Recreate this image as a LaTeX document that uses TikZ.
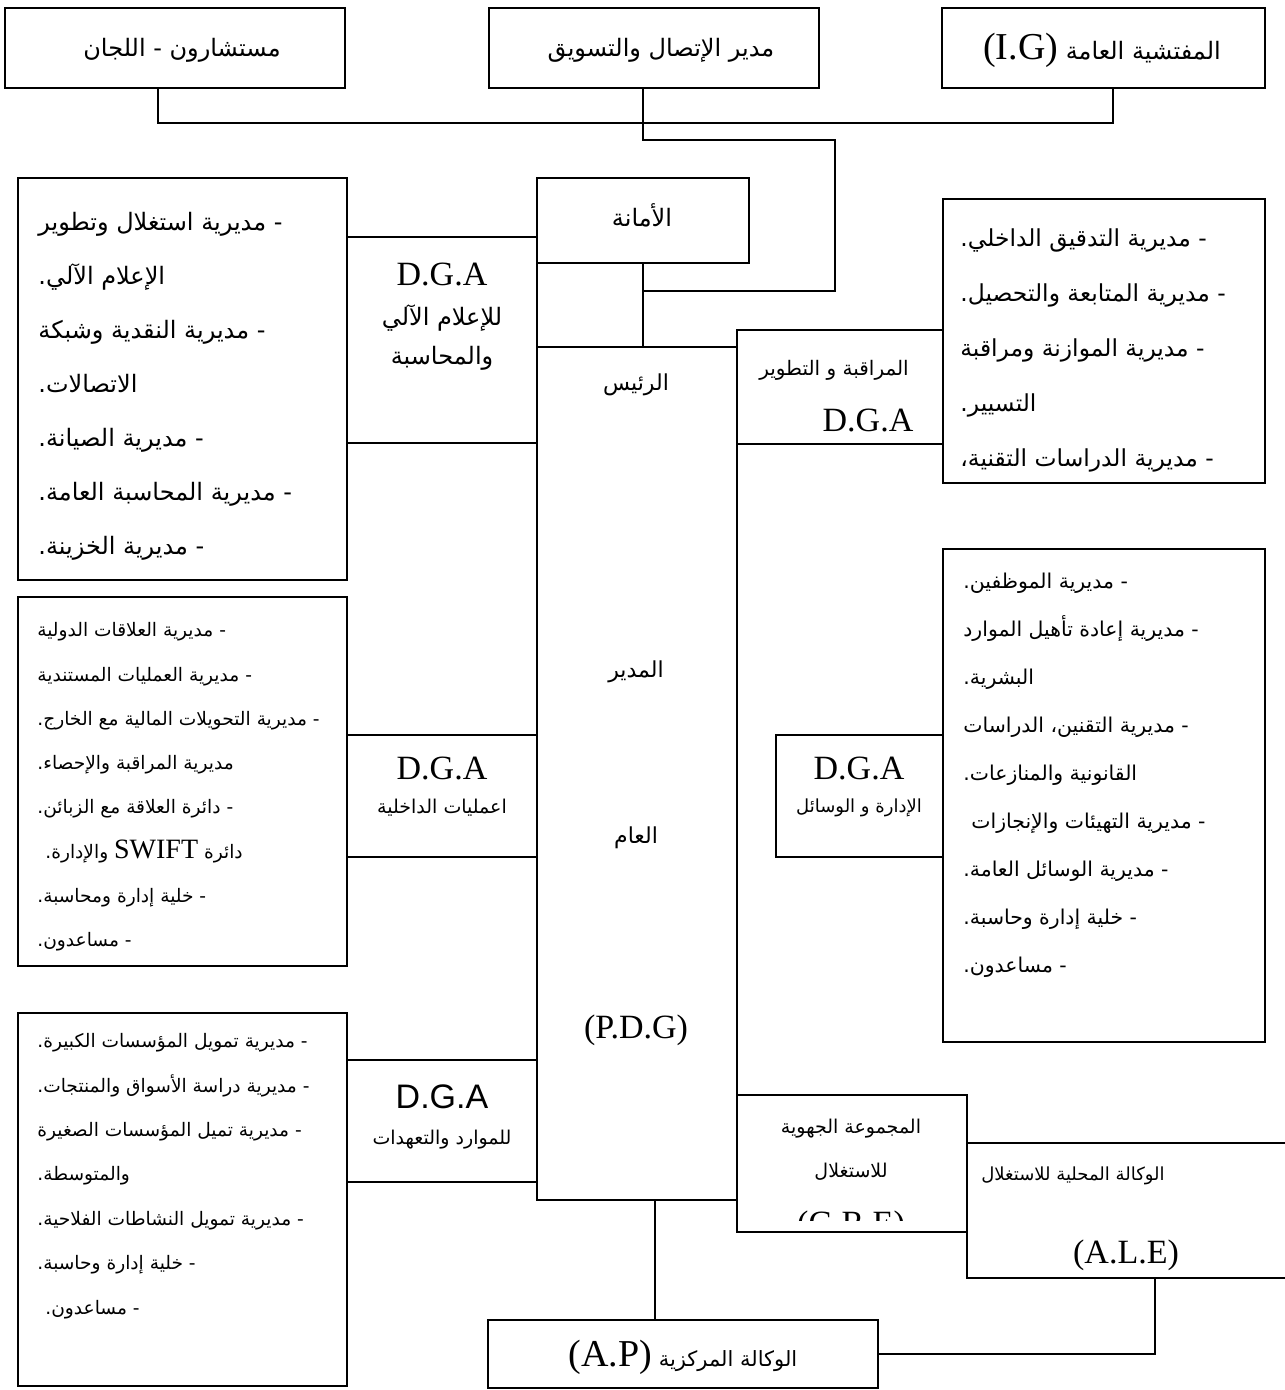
\documentclass[tikz,border=0pt]{standalone}
\usepackage{fontspec}
\setmainfont{Liberation Serif}
\newfontfamily\arfont[Script=Arabic]{DejaVu Sans}
\newfontfamily\arialfont{Liberation Sans}
\TeXXeTstate=1
\usetikzlibrary{fit}
\newcommand\AR[1]{{\arfont\beginR #1\endR}}
\newcommand\LT[1]{\beginL{\rmfamily #1}\endL{}}
\begin{document}
\begin{tikzpicture}[x=0.5pt,y=-0.5pt,
  box/.style={draw, line width=1pt, inner sep=0pt},
  conn/.style={line width=0.8pt},
  lbl/.style={inner sep=0pt, align=center},
  lst/.style={inner sep=0pt, align=left, anchor=west},
  fA/.style={font=\fontsize{12}{14}\selectfont},
  fB/.style={font=\fontsize{9.5}{12}\selectfont},
  fdga/.style={font=\fontsize{17}{19}\selectfont}]
\useasboundingbox (0,0) rectangle (1284,1390);
\fill[white] (0,0) rectangle (1284,1390);

% ---- top row
\node[box, fit={(5,8) (345,88)}] (A) {};
\node[box, fit={(489,8) (819,88)}] (B) {};
\node[box, fit={(942,8) (1265,88)}] (C) {};
\node[lbl, fA] (tA) at (182,50) {\AR{مستشارون - اللجان}};
\node[lbl, fA] (tB) at (661,50) {\AR{مدير الإتصال والتسويق}};
\node[lbl, fA] (tC) at (1102,50) {\AR{المفتشية العامة \LT{\fontsize{19}{21}\selectfont (I.G)}}};

% ---- centre column
\node[box, fit={(537,178) (749,263)}] (amana) {};
\node[lbl, fA] (tamana) at (642,215) {\AR{الأمانة}};
\node[box, fit={(537,347) (737,1200)}] (pdg) {};
\node[lbl, font=\fontsize{11}{13}\selectfont] (t1) at (636,385) {\AR{الرئيس}};
\node[lbl, font=\fontsize{11}{13}\selectfont] (t2) at (636,672) {\AR{المدير}};
\node[lbl, font=\fontsize{11}{13}\selectfont] (t3) at (636,838) {\AR{العام}};
\node[lbl, fdga] (t4) at (636,1030) {(P.D.G)};

% ---- left column
\node[box, fit={(18,178) (347,580)}] (L1) {};
\node[box, fit={(347,237) (537,443)}] (D1) {};
\node[lbl, fdga] (D1a) at (442,274) {D.G.A};
\node[lbl, fA] (D1b) at (442,318) {\AR{للإعلام الآلي}};
\node[lbl, fA] (D1c) at (442,358) {\AR{والمحاسبة}};
\node[lst, font=\fontsize{12}{27}\selectfont] (L1t) at (38,386) {%
\AR{- مديرية استغلال وتطوير}\\
\AR{الإعلام الآلي.}\\
\AR{- مديرية النقدية وشبكة}\\
\AR{الاتصالات.}\\
\AR{- مديرية الصيانة.}\\
\AR{- مديرية المحاسبة العامة.}\\
\AR{- مديرية الخزينة.}};

\node[box, fit={(18,597) (347,966)}] (L2) {};
\node[box, fit={(347,735) (537,857)}] (D2) {};
\node[lbl, fdga] (D2a) at (442,768) {D.G.A};
\node[lbl, fB] (D2b) at (442,808) {\AR{اعمليات الداخلية}};
\node[lst, font=\fontsize{9.3}{22.15}\selectfont] (L2t) at (37,787) {%
\AR{- مديرية العلاقات الدولية}\\
\AR{- مديرية العمليات المستندية}\\
\AR{- مديرية التحويلات المالية مع الخارج.}\\
\AR{مديرية المراقبة والإحصاء.}\\
\AR{- دائرة العلاقة مع الزبائن.}\\
\hspace{4pt}\AR{دائرة \LT{\fontsize{14}{14}\selectfont SWIFT} والإدارة.}\\
\AR{- خلية إدارة ومحاسبة.}\\
\AR{- مساعدون.}};

\node[box, fit={(18,1013) (347,1386)}] (L3) {};
\node[box, fit={(347,1060) (537,1182)}] (D3) {};
\node[lbl, font=\arialfont\fontsize{17}{19}\selectfont] (D3a) at (442,1097) {D.G.A};
\node[lbl, fB] (D3b) at (442,1140) {\AR{للموارد والتعهدات}};
\node[lst, font=\fontsize{9.3}{22.2}\selectfont] (L3t) at (37,1176) {%
\AR{- مديرية تمويل المؤسسات الكبيرة.}\\
\AR{- مديرية دراسة الأسواق والمنتجات.}\\
\AR{- مديرية تميل المؤسسات الصغيرة}\\
\AR{والمتوسطة.}\\
\AR{- مديرية تمويل النشاطات الفلاحية.}\\
\AR{- خلية إدارة وحاسبة.}\\
\hspace{4pt}\AR{- مساعدون.}};

% ---- right column
\node[box, fit={(737,330) (943,444)}] (D4) {};
\node[lbl, font=\fontsize{10}{12}\selectfont] (D4b) at (834,370) {\AR{المراقبة و التطوير}};
\node[lbl, fdga] (D4a) at (868,420) {D.G.A};
\node[box, fit={(943,199) (1265,483)}] (R1) {};
\node[lst, font=\fontsize{11.7}{27.5}\selectfont] (R1t) at (960,350) {%
\AR{- مديرية التدقيق الداخلي.}\\
\AR{- مديرية المتابعة والتحصيل.}\\
\AR{- مديرية الموازنة ومراقبة}\\
\AR{التسيير.}\\
\AR{- مديرية الدراسات التقنية،}};

\node[box, fit={(776,735) (943,857)}] (D5) {};
\node[lbl, fdga] (D5a) at (859,768) {D.G.A};
\node[lbl, font=\fontsize{9}{11}\selectfont] (D5b) at (859,808) {\AR{الإدارة و الوسائل}};
\node[box, fit={(943,549) (1265,1042)}] (R2) {};
\node[lst, font=\fontsize{10.2}{24}\selectfont] (R2t) at (963,775) {%
\AR{- مديرية الموظفين.}\\
\AR{- مديرية إعادة تأهيل الموارد}\\
\AR{البشرية.}\\
\AR{- مديرية التقنين، الدراسات}\\
\AR{القانونية والمنازعات.}\\
\hspace{4pt}\AR{- مديرية التهيئات والإنجازات}\\
\AR{- مديرية الوسائل العامة.}\\
\AR{- خلية إدارة وحاسبة.}\\
\AR{- مساعدون.}};

% ---- bottom
\node[box, fit={(737,1095) (967,1232)}] (gre) {};
\node[lbl, font=\fontsize{9.5}{22}\selectfont] (gret) at (851,1150) {%
\AR{المجموعة الجهوية}\\ \AR{للاستغلال}};
\begin{scope}
\clip (737,1095) rectangle (967,1220);
\node[anchor=base, inner sep=0pt, fdga] (gret2) at (851,1234) {(G.R.E)};
\end{scope}
\node[box, fit={(967,1143) (1343,1278)}] (ale) {};
\node[lbl, font=\fontsize{9}{11}\selectfont] (alet1) at (1073,1176) {\AR{الوكالة المحلية للاستغلال}};
\node[lbl, fdga] (alet2) at (1126,1255) {(A.L.E)};
\node[box, fit={(488,1320) (878,1388)}] (ap) {};
\node[lbl, font=\fontsize{10.5}{13}\selectfont] (apt) at (683,1357) {\AR{الوكالة المركزية \LT{\fontsize{19}{21}\selectfont (A.P)}}};

% ---- connectors
\draw[conn] ([xshift=-8.5pt]A.south) -- ++(0,34) -| ([xshift=4.75pt]C.south);
\draw[conn] ([xshift=-5.5pt]B.south) -- ++(0,51) -- ++(192,0) -- ++(0,151) -| (amana.south);
\draw[conn] (amana.south) -- (amana.south |- pdg.north);
\draw[conn] ([xshift=9pt]pdg.south) -- ([xshift=9pt]pdg.south |- ap.north);
\draw[conn] (ale.south) |- (ap.east);
\end{tikzpicture}
\end{document}
